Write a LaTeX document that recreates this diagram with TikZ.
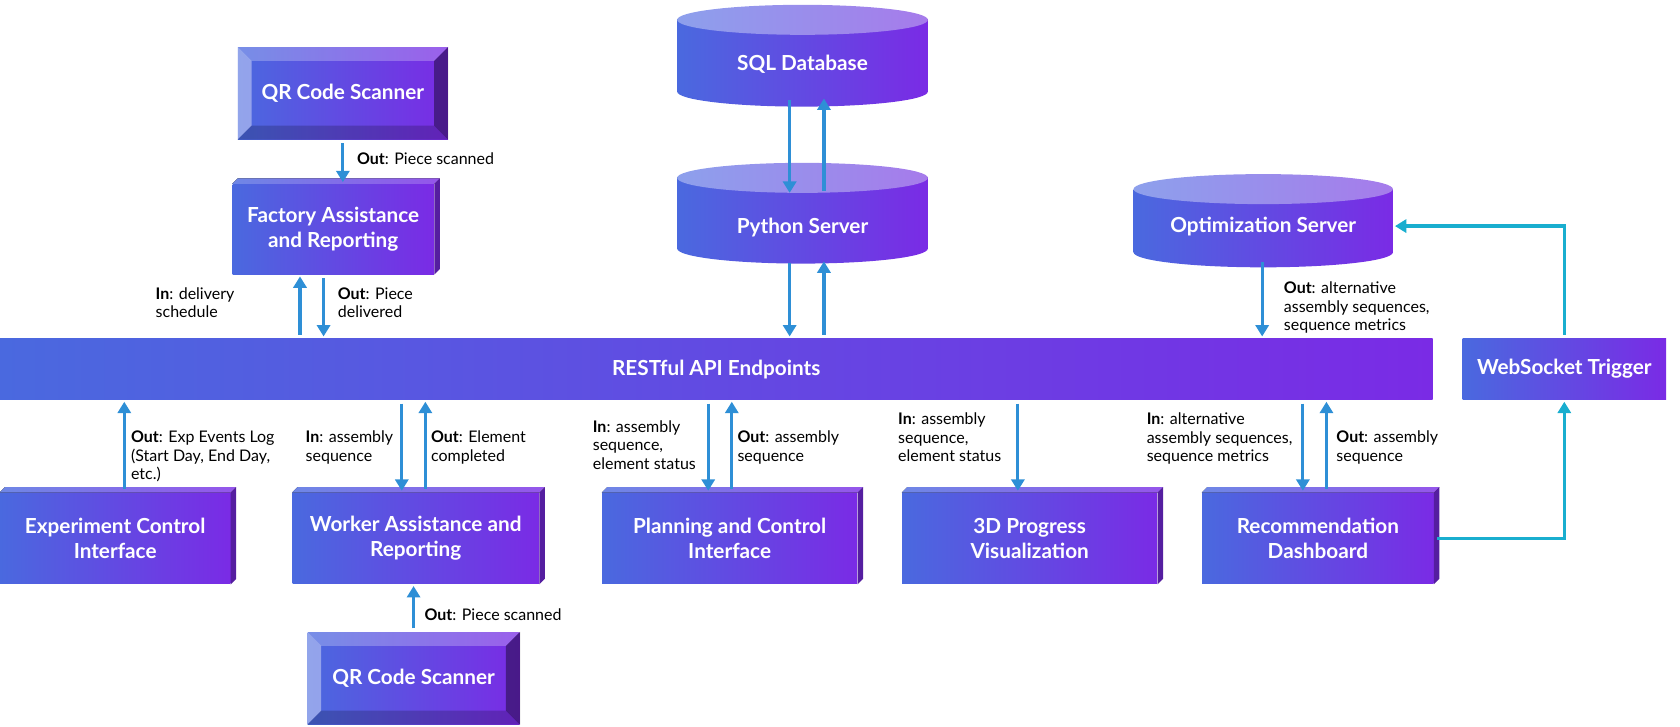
\documentclass[tikz,border=0pt]{standalone}
\usepackage{fontspec}
\setmainfont{Lato}
\usetikzlibrary{arrows.meta}
\definecolor{bl}{HTML}{4A69DF}
\definecolor{vi}{HTML}{7A2BE5}
\definecolor{topl}{HTML}{8DA0EC}
\definecolor{topr}{HTML}{A67BEB}
\definecolor{arrblue}{HTML}{2E8FD6}
\definecolor{cyn}{HTML}{19AECF}
\tikzset{
  sz/.style 2 args={minimum width=#1*0.02143cm, minimum height=#2*0.02143cm},
  box/.style={rectangle, inner sep=0pt, left color=bl, right color=vi, text=white,
    font=\bfseries\fontsize{11.8}{14.5}\selectfont, align=center},
  dbtext/.style={rectangle, inner sep=0pt, text=white, font=\bfseries\fontsize{11.8}{14.5}\selectfont},
  arr/.style={draw=arrblue, line width=1.8pt, shorten <=2pt, shorten >=1pt,
    -{Triangle[length=6.5pt,width=7.5pt]}},
  lbl/.style={font=\fontsize{9.1}{10.5}\selectfont, align=left, anchor=north west, inner sep=0pt}
}
\begin{document}
\begin{tikzpicture}[x=0.02143cm, y=-0.02143cm]
  \useasboundingbox (0,0) rectangle (1568,678.5);

  % cylinders
  \foreach \cx/\cy/\w/\h in {749/52/234/95, 749/199/234/94, 1179/206/242/87}{
    \shade[left color=bl, right color=vi] (\cx-\w/2,\cy-\h/2+14) rectangle (\cx+\w/2,\cy+\h/2-14);
    \shade[left color=bl, right color=vi] (\cx,\cy+\h/2-14) ellipse [x radius=\w/2, y radius=14];
    \shade[left color=topl, right color=topr] (\cx,\cy-\h/2+14) ellipse [x radius=\w/2, y radius=14];
  }
  \node[dbtext, sz={234}{60}] (sql) at (749,60) {SQL Database};
  \node[dbtext, sz={234}{60}] (py) at (749,212) {Python Server};
  \node[dbtext, sz={242}{60}] (opt) at (1179,211) {Optimization Server};

  % boxes
  \node[box, sz={196}{86}] (qr1) at (320,87) {QR Code Scanner};
  \node[box, sz={188}{84}] (fac) at (311,214) {Factory Assistance\\and Reporting};
  \node[box, sz={1337}{57}] (rest) at (668.5,344.5) {RESTful API Endpoints};
  \node[box, sz={190}{57}] (ws) at (1460,344.5) {WebSocket Trigger};
  \node[box, sz={215}{85}] (exp) at (107.5,502.5) {Experiment Control\\Interface};
  \node[box, sz={230}{85}] (wor) at (388,502.5) {Worker Assistance and\\Reporting};
  \node[box, sz={238}{85}] (pla) at (681,502.5) {Planning and Control\\Interface};
  \node[box, sz={238}{85}] (vis) at (961,502.5) {3D Progress\\Visualization};
  \node[box, sz={216}{85}] (rec) at (1230,502.5) {Recommendation\\Dashboard};
  \node[box, sz={198}{86}] (qr2) at (386,633) {QR Code Scanner};

  % bevels
  \foreach \n in {qr1,qr2}{
    \fill[white, opacity=0.25] (\n.north west) -- (\n.north east) -- ([shift={(-0.28cm,-0.28cm)}]\n.north east) -- ([shift={(0.28cm,-0.28cm)}]\n.north west) -- cycle;
    \fill[white, opacity=0.4] (\n.north west) -- (\n.south west) -- ([shift={(0.28cm,0.28cm)}]\n.south west) -- ([shift={(0.28cm,-0.28cm)}]\n.north west) -- cycle;
    \fill[black, opacity=0.4] (\n.north east) -- (\n.south east) -- ([shift={(-0.28cm,0.28cm)}]\n.south east) -- ([shift={(-0.28cm,-0.28cm)}]\n.north east) -- cycle;
    \fill[black, opacity=0.2] (\n.south west) -- (\n.south east) -- ([shift={(-0.28cm,0.28cm)}]\n.south east) -- ([shift={(0.28cm,0.28cm)}]\n.south west) -- cycle;
  }
  % 3d edges
  \foreach \n in {fac,exp,wor,pla,vis,rec}{
    \fill[vi!70!black] (\n.north east) -- ++(0.11cm,0.11cm) -- ([shift={(0.11cm,0.11cm)}]\n.south east) -- (\n.south east) -- cycle;
    \fill[left color=bl!80!white, right color=vi!80!white] (\n.north west) -- ++(0.11cm,0.11cm) -- ([shift={(0.11cm,0.11cm)}]\n.north east) -- (\n.north east) -- cycle;
  }

  % arrow positions
  \foreach \n/\x in {a/320, b/280, c/302, d/737, e/769, f/1178, g/116, h/375, i/397,
      j/661, k/683, l/950, m/1216, o/1238, p/386}
    \coordinate (x\n) at (\x,0);

  \draw[arr] (qr1.south -| xa) -- (fac.north -| xa);
  \draw[arr] (rest.north -| xb) -- (fac.south -| xb);
  \draw[arr] (fac.south -| xc) -- (rest.north -| xc);
  \draw[arr] (sql.south -| xd) -- (py.north -| xd);
  \draw[arr] (py.north -| xe) -- (sql.south -| xe);
  \draw[arr] (py.south -| xd) -- (rest.north -| xd);
  \draw[arr] (rest.north -| xe) -- (py.south -| xe);
  \draw[arr] (opt.south -| xf) -- (rest.north -| xf);
  \draw[arr] (exp.north -| xg) -- (rest.south -| xg);
  \draw[arr] (rest.south -| xh) -- (wor.north -| xh);
  \draw[arr] (wor.north -| xi) -- (rest.south -| xi);
  \draw[arr] (rest.south -| xj) -- (pla.north -| xj);
  \draw[arr] (pla.north -| xk) -- (rest.south -| xk);
  \draw[arr] (rest.south -| xl) -- (vis.north -| xl);
  \draw[arr] (rest.south -| xm) -- (rec.north -| xm);
  \draw[arr] (rec.north -| xo) -- (rest.south -| xo);
  \draw[arr] (qr2.north -| xp) -- (wor.south -| xp);
  \draw[arr, draw=cyn] (rec.east) -| (ws.south);
  \draw[arr, draw=cyn] (ws.north) |- (opt.east);

  % labels
  \node[lbl] (l1) at (333,142) {\textbf{Out}: Piece scanned};
  \node[lbl] (l2) at (145,268) {\textbf{In}: delivery\\schedule};
  \node[lbl] (l3) at (315,268) {\textbf{Out}: Piece\\delivered};
  \node[lbl] (l4) at (1198,263) {\textbf{Out}: alternative\\assembly sequences,\\sequence metrics};
  \node[lbl] (l5) at (122,402) {\textbf{Out}: Exp Events Log\\(Start Day, End Day,\\etc.)};
  \node[lbl] (l6) at (285,402) {\textbf{In}: assembly\\sequence};
  \node[lbl] (l7) at (402,402) {\textbf{Out}: Element\\completed};
  \node[lbl] (l8) at (553,392) {\textbf{In}: assembly\\sequence,\\element status};
  \node[lbl] (l9) at (688,402) {\textbf{Out}: assembly\\sequence};
  \node[lbl] (l10) at (838,385) {\textbf{In}: assembly\\sequence,\\element status};
  \node[lbl] (l11) at (1070,385) {\textbf{In}: alternative\\assembly sequences,\\sequence metrics};
  \node[lbl] (l12) at (1247,402) {\textbf{Out}: assembly\\sequence};
  \node[lbl] (l13) at (396,568) {\textbf{Out}: Piece scanned};
\end{tikzpicture}
\end{document}
